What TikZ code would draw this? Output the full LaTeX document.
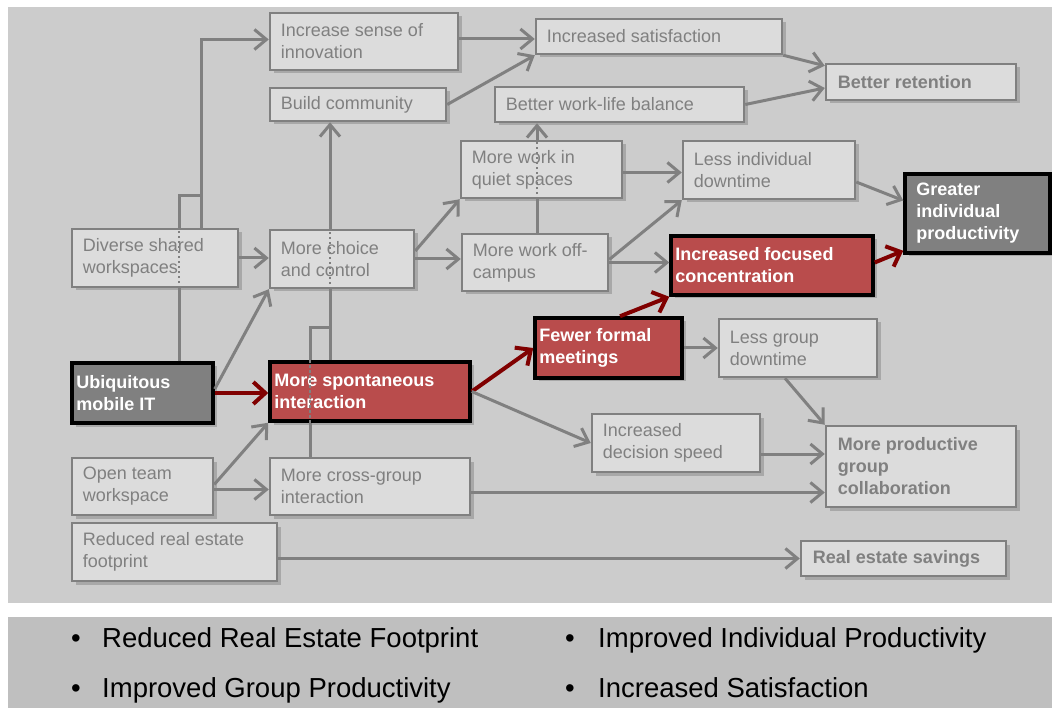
\documentclass[tikz,border=0pt]{standalone}
\usepackage{fontspec}
\setmainfont{Liberation Sans}
\usetikzlibrary{arrows.meta,calc,shadows}
\definecolor{panelA}{RGB}{204,204,204}
\definecolor{panelB}{RGB}{191,191,191}
\definecolor{boxfill}{RGB}{220,220,220}
\definecolor{cgray}{RGB}{128,128,128}
\definecolor{redfill}{RGB}{185,76,76}
\definecolor{darkred}{RGB}{128,0,0}
\definecolor{shadowc}{RGB}{168,168,168}
% box style, text style, pad, name, x1, y1, x2, y2, text
\newcommand\boxnode[9]{%
  \pgfmathsetmacro\bw{#7-#5}%
  \pgfmathsetmacro\bh{#8-#6}%
  \pgfmathsetmacro\bcx{(#5+#7)/2}%
  \pgfmathsetmacro\bcy{(#6+#8)/2}%
  \node[#1, minimum width=\bw pt, minimum height=\bh pt] (#4) at (\bcx,\bcy) {};
  \node[#2, anchor=west] (#4-t) at ($(#4.west)+(#3,0)$) {#9};}
\tikzset{
  shd/.style={general shadow={fill=shadowc, shadow xshift=3.5pt, shadow yshift=-3.5pt}},
  boxbase/.style={rectangle, inner sep=0pt, shd},
  lbox/.style={boxbase, draw=cgray, line width=2.5pt, fill=boxfill},
  rbox/.style={boxbase, draw=black, line width=3.5pt, fill=redfill},
  dbox/.style={boxbase, draw=black, line width=3.5pt, fill=cgray},
  txtbase/.style={inner sep=0pt, align=left},
  ltxt/.style={txtbase, text=cgray, font=\fontsize{18}{22}\selectfont},
  otxt/.style={txtbase, text=cgray, font=\fontsize{18}{22}\selectfont\bfseries},
  wtxt/.style={txtbase, text=white, font=\fontsize{18}{22}\selectfont\bfseries},
  btxt/.style={inner sep=0pt, text=black, font=\fontsize{27.5}{30}\selectfont},
  gl/.style={draw=cgray, line width=3pt},
  ga/.style={gl, -{Straight Barb[length=12pt,width=20pt]}},
  ra/.style={draw=darkred, line width=4pt, -{Straight Barb[length=12pt,width=22pt]}},
  gdot/.style={draw=cgray, line width=2.5pt, dash pattern=on 2.5pt off 2.5pt},
}
\begin{document}
\begin{tikzpicture}[x=1pt,y=-1pt]
\useasboundingbox (0,0) rectangle (1052,708);
\fill[white] (0,0) rectangle (1052,708);
\fill[panelA] (8,7) rectangle (1052,603);
\fill[panelB] (8,617) rectangle (1052,708);

% boxes
\boxnode{lbox}{ltxt}{12}{innov}{270}{13}{458}{70}{Increase sense of\\innovation}
\boxnode{lbox}{ltxt}{12}{build}{270}{88}{446}{121}{Build community}
\boxnode{lbox}{ltxt}{12}{satisf}{536}{19}{782}{54}{Increased satisfaction}
\boxnode{lbox}{otxt}{13}{retention}{826}{64}{1016}{100}{Better retention}
\boxnode{lbox}{ltxt}{12}{worklife}{495}{87}{744}{122}{Better work-life balance}
\boxnode{lbox}{ltxt}{12}{quiet}{461}{141}{622}{198}{More work in\\quiet spaces}
\boxnode{lbox}{ltxt}{12}{lessind}{683}{141}{855}{199}{Less individual\\downtime}
\boxnode{dbox}{wtxt}{13}{greater}{905}{174}{1050}{253}{Greater\\individual\\productivity}
\boxnode{lbox}{ltxt}{12}{diverse}{72}{229}{238}{287}{Diverse shared\\workspaces}
\boxnode{lbox}{ltxt}{12}{choice}{270}{230}{414}{288}{More choice\\and control}
\boxnode{lbox}{ltxt}{12}{offcampus}{462}{234}{608}{291}{More work off-\\campus}
\boxnode{rbox}{wtxt}{6}{focused}{671}{236}{873}{295}{Increased focused\\concentration}
\boxnode{dbox}{wtxt}{6}{ubiq}{72}{363}{213}{423}{Ubiquitous\\mobile IT}
\boxnode{rbox}{wtxt}{6}{spont}{270}{362}{470}{421}{More spontaneous\\interaction}
\boxnode{rbox}{wtxt}{6}{fewer}{535}{318}{682}{378}{Fewer formal\\meetings}
\boxnode{lbox}{ltxt}{12}{lessgroup}{719}{319}{877}{377}{Less group\\downtime}
\boxnode{lbox}{ltxt}{12}{decision}{592}{414}{760}{472}{Increased\\decision speed}
\boxnode{lbox}{otxt}{13}{collab}{826}{426}{1016}{507}{More productive\\group\\collaboration}
\boxnode{lbox}{ltxt}{12}{openteam}{72}{458}{213}{515}{Open team\\workspace}
\boxnode{lbox}{ltxt}{12}{crossgroup}{270}{458}{470}{515}{More cross-group\\interaction}
\boxnode{lbox}{ltxt}{12}{reduced}{72}{523}{277}{581}{Reduced real estate\\footprint}
\boxnode{lbox}{otxt}{13}{savings}{801}{541}{1006}{576}{Real estate savings}

% ubiquitous / diverse -> innovation
\coordinate (j1) at (179,196);
\coordinate (j2) at (201,196);
\draw[gl] (179,0 |- ubiq.north) -- (179,0 |- diverse.south);
\draw[gdot] (179,0 |- diverse.south) -- (179,0 |- diverse.north);
\draw[gl] (179,0 |- diverse.north) -- (j1) -- (j2);
\draw[ga] (201,0 |- diverse.north) |- ($(innov.west)+(0,-2)$);
\draw[ga] (diverse.east) -- (diverse.east -| choice.west);
\draw[ga] ($(ubiq.east)+(0,-4)$) -- (choice.south west);
\draw[ra] (ubiq.east) -- (ubiq.east -| spont.west);
\draw[ga] ($(openteam.east)+(0,-2)$) -- (spont.south west);
\coordinate (o1) at ($(openteam.east)+(0,3)$);
\draw[ga] (o1) -- (o1 -| crossgroup.west);

% spontaneous / choice / cross-group -> build community
\coordinate (j3) at (310,328);
\coordinate (j4) at (330,328);
\draw[gl] (330,0 |- spont.north) -- (330,0 |- choice.south);
\draw[gdot] (330,0 |- choice.south) -- (330,0 |- choice.north);
\draw[ga] (330,0 |- choice.north) -- (330,0 |- build.south);
\draw[gl] (310,0 |- crossgroup.north) -- (310,0 |- spont.south);
\draw[gdot] (310,0 |- spont.south) -- (310,0 |- spont.north);
\draw[gl] (310,0 |- spont.north) -- (j3) -- (j4);

% from spontaneous
\draw[ra] (spont.east) -- (fewer.west);
\draw[ga] (spont.east) -- (decision.west);
\draw[ra] (620,0 |- fewer.north) -- (focused.south west);
\draw[ga] (fewer.east) -- (fewer.east -| lessgroup.west);
\draw[ga] (785,0 |- lessgroup.south) -- (collab.north west);
\coordinate (d1) at ($(decision.east)+(0,11)$);
\draw[ga] (d1) -- (d1 -| collab.west);
\coordinate (c1) at ($(crossgroup.east)+(0,6)$);
\draw[ga] (c1) -- (c1 -| collab.west);
\draw[ga] (savings.west -| reduced.east) -- (savings.west);

% from choice
\draw[ga] ($(choice.east)+(0,-8)$) -- (quiet.south west);
\draw[ga] (choice.east) -- (choice.east -| offcampus.west);
\draw[gl] (537,0 |- offcampus.north) -- (537,0 |- quiet.south);
\draw[gdot] (537,0 |- quiet.south) -- (537,0 |- quiet.north);
\draw[ga] (537,0 |- quiet.north) -- (537,0 |- worklife.south);
\coordinate (q1) at ($(quiet.east)+(0,3)$);
\draw[ga] (q1) -- (q1 -| lessind.west);
\draw[ga] ($(offcampus.east)+(0,-3)$) -- (lessind.south west);
\draw[ga] (offcampus.east) -- (offcampus.east -| focused.west);
\draw[ga] ($(lessind.east)+(0,12)$) -- ($(greater.west)+(0,-13)$);
\draw[ra] ($(focused.east)+(0,-3)$) -- ($(greater.south west)+(0,-4)$);

% top
\coordinate (i1) at ($(innov.east)+(0,-2.5)$);
\draw[ga] (i1) -- (i1 -| satisf.west);
\draw[ga] (build.east) -- (satisf.south west);
\draw[ga] (satisf.south east) -- ($(retention.north west)+(0,3)$);
\draw[ga] (worklife.east) -- ($(retention.west)+(0,6)$);

% bottom panel
\node[btxt, anchor=base] (b1) at (76,647) {•};
\node[btxt, anchor=base west] (t1) at (102,647) {Reduced Real Estate Footprint};
\node[btxt, anchor=base] (b2) at (570,647) {•};
\node[btxt, anchor=base west] (t2) at (598,647) {Improved Individual Productivity};
\node[btxt, anchor=base] (b3) at (76,697) {•};
\node[btxt, anchor=base west] (t3) at (102,697) {Improved Group Productivity};
\node[btxt, anchor=base] (b4) at (570,697) {•};
\node[btxt, anchor=base west] (t4) at (598,697) {Increased Satisfaction};
\end{tikzpicture}
\end{document}
